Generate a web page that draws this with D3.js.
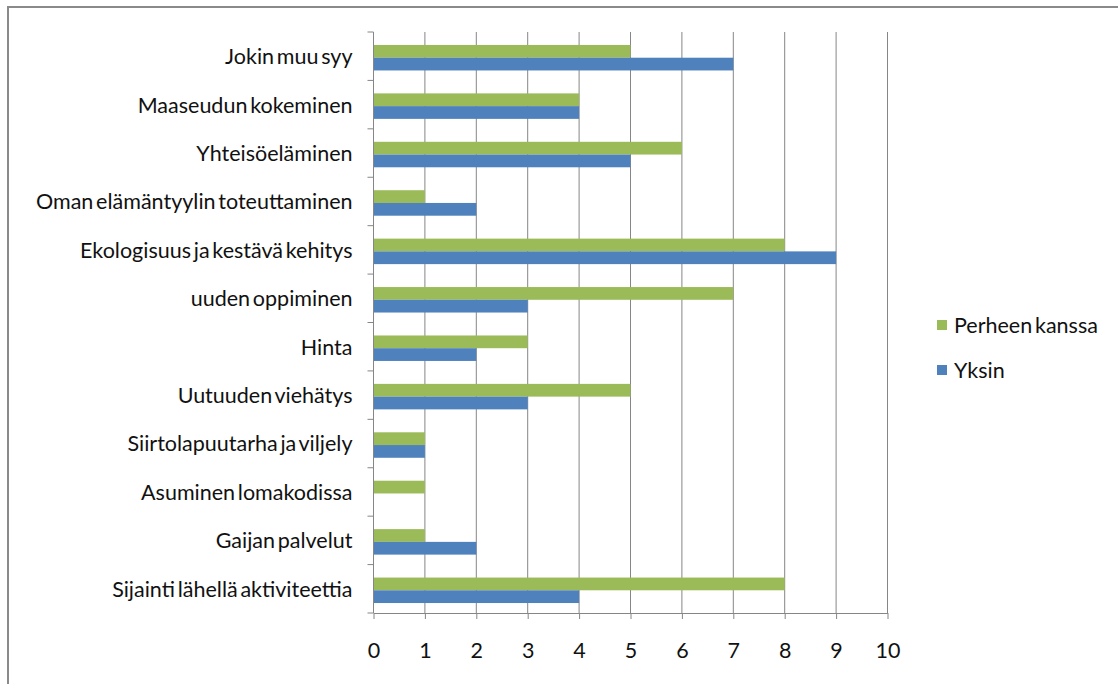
<!DOCTYPE html>
<html>
<head>
<meta charset="utf-8">
<script src="https://cdn.jsdelivr.net/npm/d3@7"></script>
<style>
  html, body { margin: 0; padding: 0; background: #fff; }
  svg { display: block; }
  text { font-family: Lato, "Open Sans", sans-serif; fill: #111; }
</style>
</head>
<body>
<svg id="chart" width="1118" height="684"></svg>
<script>
// Reasons, listed top to bottom
const categories = [
  "Jokin muu syy",
  "Maaseudun kokeminen",
  "Yhteisöeläminen",
  "Oman elämäntyylin toteuttaminen",
  "Ekologisuus ja kestävä kehitys",
  "uuden oppiminen",
  "Hinta",
  "Uutuuden viehätys",
  "Siirtolapuutarha ja viljely",
  "Asuminen lomakodissa",
  "Gaijan palvelut",
  "Sijainti lähellä aktiviteettia"
];
const perheenKanssa = [5, 4, 6, 1, 8, 7, 3, 5, 1, 1, 1, 8];
const yksin         = [7, 4, 5, 2, 9, 3, 2, 3, 1, 0, 2, 4];
const seriesNames = ["Perheen kanssa", "Yksin"];
const seriesColors = ["#9BBB59", "#4F81BD"];
const xTicks = [0, 1, 2, 3, 4, 5, 6, 7, 8, 9, 10];

const FONT_SIZE = 21.5;
const WORD_SPACING = -2.75;

const svg = d3.select("#chart");

// outer frame
svg.append("rect")
  .attr("x", 8).attr("y", 7)
  .attr("width", 1130).attr("height", 700)
  .attr("fill", "none").attr("stroke", "#8a8a8a").attr("stroke-width", 2);

const plot = { left: 373.5, right: 887.5, top: 32, bottom: 613 };

const x = d3.scaleLinear().domain([0, 10]).range([plot.left, plot.right]);
const y = d3.scaleBand().domain(categories).range([plot.top, plot.bottom]);
const inner = d3.scaleBand().domain(seriesNames)
  .range([0, y.bandwidth()]).paddingOuter(0.9).paddingInner(0);

// vertical gridlines
svg.append("g").selectAll("line")
  .data(xTicks.slice(1))
  .join("line")
  .attr("x1", d => x(d)).attr("x2", d => x(d))
  .attr("y1", plot.top).attr("y2", plot.bottom)
  .attr("stroke", "#868686").attr("stroke-width", 1);

// bars
const rows = categories.map((c, i) => ({ c, vals: [perheenKanssa[i], yksin[i]] }));
const g = svg.append("g");
rows.forEach(r => {
  r.vals.forEach((v, k) => {
    g.append("rect")
      .attr("x", x(0))
      .attr("y", y(r.c) + inner(seriesNames[k]) + 1.5)
      .attr("width", x(v) - x(0))
      .attr("height", inner.bandwidth())
      .attr("fill", seriesColors[k]);
  });
});

// category axis
const yAxis = d3.axisLeft(y).tickSize(0).tickPadding(21);
const yg = svg.append("g").attr("transform", `translate(${plot.left},1)`).call(yAxis);
yg.select(".domain").remove();
yg.selectAll("text").attr("font-size", FONT_SIZE).attr("word-spacing", WORD_SPACING);
svg.append("line")
  .attr("x1", plot.left).attr("x2", plot.left)
  .attr("y1", plot.top).attr("y2", plot.bottom)
  .attr("stroke", "#868686");
// tick marks at band boundaries
const bounds = categories.map(c => y(c)).concat([plot.bottom]);
svg.append("g").selectAll("line")
  .data(bounds).join("line")
  .attr("x1", plot.left - 6).attr("x2", plot.left)
  .attr("y1", d => d).attr("y2", d => d)
  .attr("stroke", "#868686");

// value axis
const xAxis = d3.axisBottom(x).tickValues(xTicks).tickSize(6).tickPadding(24).tickSizeOuter(0);
const xg = svg.append("g").attr("transform", `translate(0,${plot.bottom})`).call(xAxis);
xg.select(".domain").attr("stroke", "#868686");
xg.selectAll(".tick line").attr("stroke", "#868686");
xg.selectAll("text").attr("font-size", FONT_SIZE);

// legend
const legend = svg.append("g");
seriesNames.forEach((name, i) => {
  const ly = 325 + i * 45;
  legend.append("rect")
    .attr("x", 937).attr("y", ly - 5)
    .attr("width", 10).attr("height", 10)
    .attr("fill", seriesColors[i]);
  legend.append("text")
    .attr("x", 954).attr("y", ly + 1)
    .attr("dy", "0.33em")
    .attr("font-size", FONT_SIZE)
    .attr("word-spacing", WORD_SPACING)
    .text(name);
});
</script>
</body>
</html>
